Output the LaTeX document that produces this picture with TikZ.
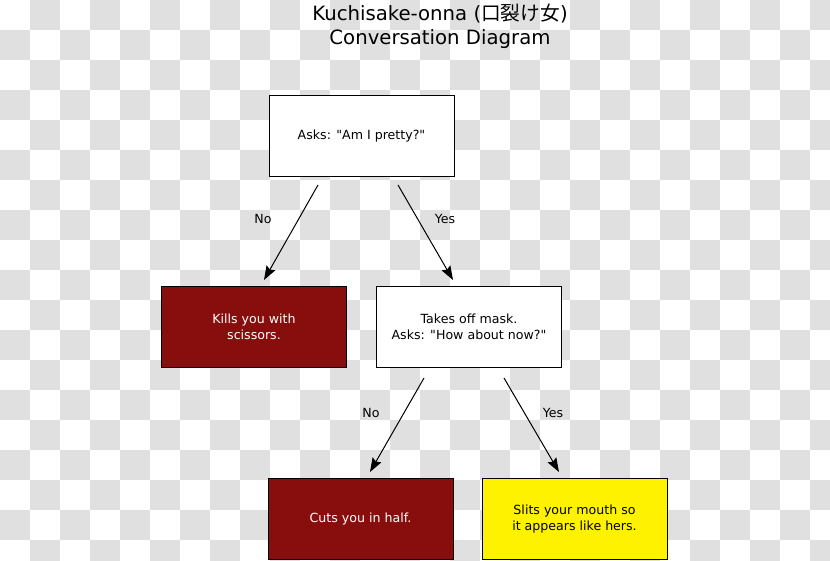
\documentclass[tikz,border=0pt]{standalone}
\usepackage{fontspec}
\setmainfont{DejaVu Sans}
\newfontfamily\cjk{Noto Sans CJK JP}
\usetikzlibrary{arrows.meta,calc}
\definecolor{checker}{RGB}{224,224,224}
\definecolor{deadred}{RGB}{136,14,14}
\newcommand{\q}{\textquotedbl}
\tikzset{
  box/.style={draw=black, line width=1pt, minimum width=185pt, minimum height=81pt,
    inner sep=0pt, align=center, font=\fontsize{12.6}{16}\selectfont},
  askbox/.style={box, fill=white, text=black},
  deathbox/.style={box, fill=deadred, text=white},
  savebox/.style={box, fill=yellow, text=black},
  answer/.style={font=\fontsize{12.6}{16}\selectfont},
  reply/.style={line width=1pt, -{Stealth[length=14pt,width=10pt,inset=2pt]}}
}
\begin{document}
\begin{tikzpicture}[x=1pt,y=-1pt]
      \useasboundingbox (0,0) rectangle (830,561);
      \begin{scope}
        \clip (0,0) rectangle (830,561);
        \foreach \i in {0,2,...,26}
          \foreach \j in {1,3,...,17}
            \fill[checker] (\i*30,\j*30) rectangle +(30,30);
        \foreach \i in {1,3,...,27}
          \foreach \j in {0,2,...,18}
            \fill[checker] (\i*30,\j*30) rectangle +(30,30);
      \end{scope}
      \node[font=\fontsize{19.7}{24}\selectfont, align=center] (title) at (440,26.5)
        {Kuchisake-onna ({\cjk 口裂け女})\\Conversation Diagram};
      \node[askbox] (ask) at (361.5,136) {Asks: \q Am I pretty?\q};
      \node[deathbox] (kills) at (254,327) {Kills you with\\scissors.};
      \node[askbox] (mask) at (469,327) {Takes off mask.\\Asks: \q How about now?\q};
      \node[deathbox] (cuts) at (360.5,519) {Cuts you in half.};
      \node[savebox] (slits) at (574.5,519) {Slits your mouth so\\it appears like hers.};
      \begin{scope}[reply]
        \draw ($(ask.south)+(-43.5,8)$) to ($(kills.north)+(10,-6)$);
        \draw ($(ask.south)+(36.5,8)$) to ($(mask.north)+(-16,-6)$);
        \draw ($(mask.south)+(-45,10)$) to ($(cuts.north)+(9.5,-6)$);
        \draw ($(mask.south)+(35,10)$) to ($(slits.north)+(-15.5,-6)$);
      \end{scope}
      \node[answer] (no1) at (263,219) {No};
      \node[answer] (yes1) at (445,219) {Yes};
      \node[answer] (no2) at (371,413) {No};
      \node[answer] (yes2) at (553,413) {Yes};
    \end{tikzpicture}
\end{document}
